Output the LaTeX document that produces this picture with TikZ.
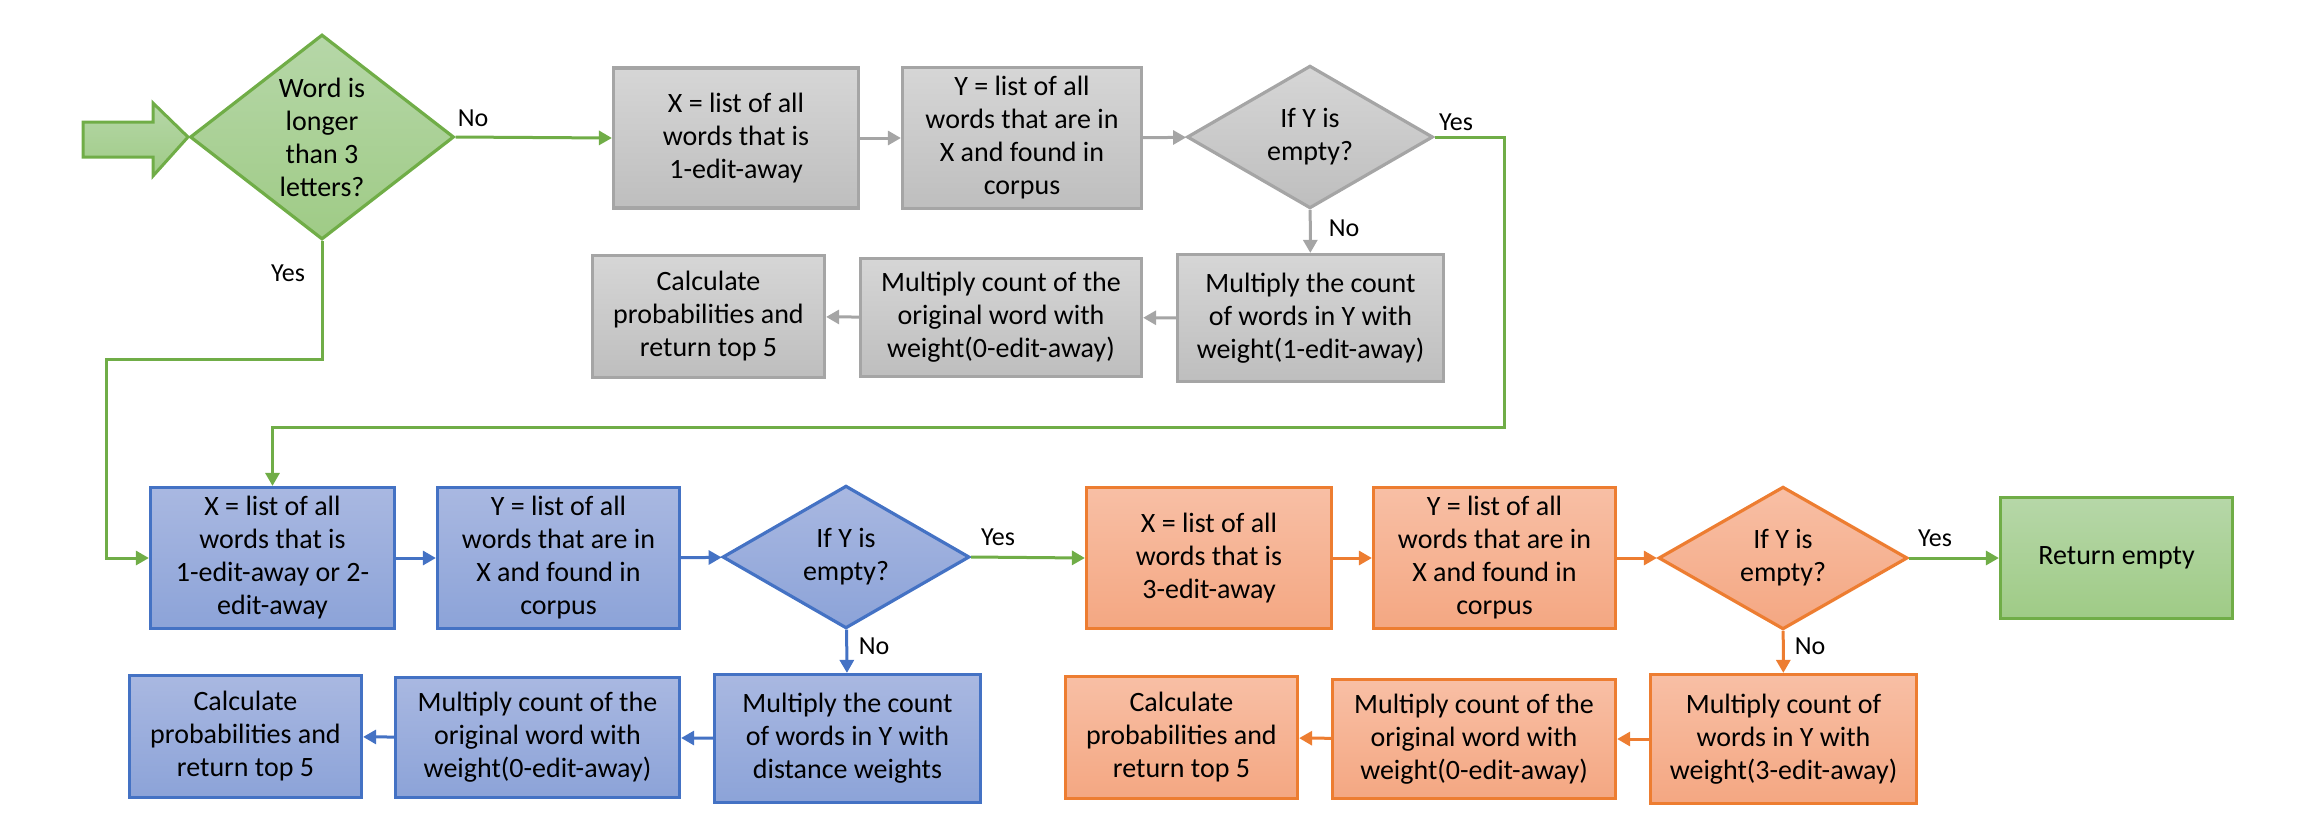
\documentclass[tikz,border=0pt]{standalone}
\usepackage{fontspec}
\setmainfont{Carlito}
\usetikzlibrary{shapes.geometric,arrows.meta}
\definecolor{grayB}{HTML}{A5A5A5}
\definecolor{grayT}{HTML}{D6D6D6}
\definecolor{grayL}{HTML}{BEBEBE}
\definecolor{blueB}{HTML}{4472C4}
\definecolor{blueT}{HTML}{A9B8E1}
\definecolor{blueL}{HTML}{8CA3D8}
\definecolor{oraB}{HTML}{ED7D31}
\definecolor{oraT}{HTML}{F8BFA5}
\definecolor{oraL}{HTML}{F4A782}
\definecolor{grnB}{HTML}{70AD47}
\definecolor{grnT}{HTML}{B6D7A8}
\definecolor{grnL}{HTML}{9FCB86}
\tikzset{
  txt/.style={align=center, font=\fontsize{28}{33}\selectfont, text=black},
  boxbase/.style={txt, rectangle, draw, line width=3.2pt, inner sep=2pt},
  diabase/.style={txt, diamond, draw, line width=3.2pt, inner sep=0pt},
  grayfill/.style={draw=grayB, top color=grayT, bottom color=grayL},
  bluefill/.style={draw=blueB, top color=blueT, bottom color=blueL},
  orafill/.style={draw=oraB, top color=oraT, bottom color=oraL},
  grnfill/.style={draw=grnB, top color=grnT, bottom color=grnL},
  conn/.style={line width=3pt, -{Triangle[length=13pt,width=14pt]}},
  lab/.style={font=\fontsize{26}{30}\selectfont, inner sep=0pt, text=black},
}
\begin{document}
\begin{tikzpicture}[x=1pt,y=-1pt]
\useasboundingbox (0,0) rectangle (2317,831);

% entry arrow
\path[grnfill, line width=3pt, line join=miter]
  (83,122) -- (153,122) -- (153,103) -- (188,137) -- (153,176) -- (153,157) -- (83,157) -- cycle;

% top row (gray)
\node[diabase, grnfill, minimum width=264pt, minimum height=190pt] (d1) at (322,137) {Word is\\longer\\than 3\\letters?};
\node[boxbase, grayfill, minimum width=245pt, minimum height=140pt] (g1) at (736,138) {X = list of all\\words that is\\1-edit-away};
\node[boxbase, grayfill, minimum width=239pt, minimum height=141pt] (g2) at (1022,138) {Y = list of all\\words that are in\\X and found in\\corpus};
\node[diabase, grayfill, minimum width=246pt, minimum height=130pt] (gd) at (1310,137) {If Y is\\empty?};
\node[boxbase, grayfill, minimum width=266pt, minimum height=127pt] (g4) at (1310.5,318) {Multiply the count\\of words in Y with\\weight(1-edit-away)};
\node[boxbase, grayfill, minimum width=281pt, minimum height=118pt] (g5) at (1001,317.5) {Multiply count of the\\original word with\\weight(0-edit-away)};
\node[boxbase, grayfill, minimum width=232pt, minimum height=122pt] (g6) at (708.5,316.5) {Calculate\\probabilities and\\return top 5};

% bottom row (blue)
\node[boxbase, bluefill, minimum width=244pt, minimum height=141pt] (b1) at (272.5,558) {X = list of all\\words that is\\1-edit-away or 2-\\edit-away};
\node[boxbase, bluefill, minimum width=242pt, minimum height=141pt] (b2) at (558.5,558) {Y = list of all\\words that are in\\X and found in\\corpus};
\node[diabase, bluefill, minimum width=247pt, minimum height=130pt] (bd) at (846,557) {If Y is\\empty?};
\node[boxbase, bluefill, minimum width=266pt, minimum height=128pt] (b4) at (847.5,738.5) {Multiply the count\\of words in Y with\\distance weights};
\node[boxbase, bluefill, minimum width=284pt, minimum height=120pt] (b5) at (537.5,737.5) {Multiply count of the\\original word with\\weight(0-edit-away)};
\node[boxbase, bluefill, minimum width=232pt, minimum height=122pt] (b6) at (245.5,736.5) {Calculate\\probabilities and\\return top 5};

% bottom row (orange)
\node[boxbase, orafill, minimum width=245pt, minimum height=141pt] (o1) at (1209,558) {X = list of all\\words that is\\3-edit-away};
\node[boxbase, orafill, minimum width=242pt, minimum height=141pt] (o2) at (1494.5,558) {Y = list of all\\words that are in\\X and found in\\corpus};
\node[diabase, orafill, minimum width=249pt, minimum height=130pt] (od) at (1783,558) {If Y is\\empty?};
\node[boxbase, orafill, minimum width=266pt, minimum height=129pt] (o4) at (1783.5,739) {Multiply count of\\words in Y with\\weight(3-edit-away)};
\node[boxbase, orafill, minimum width=283pt, minimum height=119pt] (o5) at (1474,739) {Multiply count of the\\original word with\\weight(0-edit-away)};
\node[boxbase, orafill, minimum width=232pt, minimum height=122pt] (o6) at (1181.5,737.5) {Calculate\\probabilities and\\return top 5};
\node[boxbase, grnfill, minimum width=232pt, minimum height=121pt] (ret) at (2116.5,558) {Return empty};

% corner coordinates
\coordinate (c1) at (1504,427);
\coordinate (c2) at (106,359);

% connectors
\draw[conn, grnB] (d1.east) -- (g1.west);
\draw[conn, grayB] (g1) -- (g2);
\draw[conn, grayB] (g2) -- (gd);
\draw[conn, grayB] (gd) -- (g4);
\draw[conn, grayB] (g4) -- (g5);
\draw[conn, grayB] (g5) -- (g6);
\draw[conn, grnB] (gd.east) -| (c1) -| (b1.north);
\draw[conn, grnB] (d1.south) |- (c2) |- (b1.west);

\draw[conn, blueB] (b1) -- (b2);
\draw[conn, blueB] (b2) -- (bd);
\draw[conn, blueB] (bd) -- (b4);
\draw[conn, blueB] (b4) -- (b5);
\draw[conn, blueB] (b5) -- (b6);
\draw[conn, grnB] (bd.east) -- (o1.west);

\draw[conn, oraB] (o1) -- (o2);
\draw[conn, oraB] (o2) -- (od);
\draw[conn, oraB] (od) -- (o4);
\draw[conn, oraB] (o4) -- (o5);
\draw[conn, oraB] (o5) -- (o6);
\draw[conn, grnB] (od.east) -- (ret.west);

% labels
\node[lab] (l1) at (473,118) {No};
\node[lab] (l2) at (288,273) {Yes};
\node[lab] (l3) at (1456,122) {Yes};
\node[lab] (l4) at (1344,228) {No};
\node[lab] (l5) at (998,537) {Yes};
\node[lab] (l6) at (874,646) {No};
\node[lab] (l7) at (1935,538) {Yes};
\node[lab] (l8) at (1810,646) {No};
\end{tikzpicture}
\end{document}
